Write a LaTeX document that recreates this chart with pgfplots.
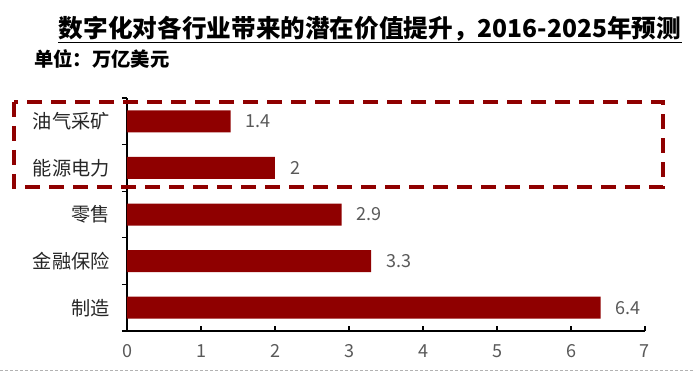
\documentclass[border=0pt]{standalone}
\usepackage{fontspec}
\setmainfont{Noto Sans CJK SC}
\usepackage{pgfplots}
\pgfplotsset{compat=1.18}
\newlength\pxu
\setlength\pxu{0.75pt}
\definecolor{barred}{RGB}{143,0,0}
\definecolor{tickgray}{RGB}{89,89,89}
\definecolor{labdark}{RGB}{38,38,38}
\begin{document}
\begin{tikzpicture}[x=\pxu,y=\pxu]
\useasboundingbox (0,0) rectangle (694,372);
\begin{axis}[
  at={(127\pxu,41\pxu)}, anchor=south west,
  scale only axis, width=518\pxu, height=233\pxu,
  xmin=0, xmax=7, ymin=-0.5, ymax=4.5,
  axis x line*=bottom, axis y line*=left,
  axis line style={line width=1.2pt, black},
  tick align=inside,
  xtick={0,...,7}, major tick length=5\pxu,
  every tick/.style={black, line width=0.9pt},
  ytick={0,...,4},
  yticklabels={制造,金融保险,零售,能源电力,油气采矿},
  major y tick style={draw=none},
  minor ytick={-0.5,0.5,...,4.5}, minor tick length=5\pxu,
  minor y tick style={xshift=-5\pxu, black, line width=0.9pt},
  yticklabel style={font=\fontsize{14.4}{16}\selectfont, color=labdark, inner sep=0pt, xshift=-17\pxu},
  xticklabel style={font=\fontsize{13.5}{16}\selectfont, color=tickgray, yshift=-9\pxu},
  /pgf/number format/assume math mode=true,
  clip=false,
]
\addplot[xbar, fill=barred, draw=none, bar width=22\pxu,
  point meta=x, nodes near coords,
  nodes near coords style={font=\fontsize{13.5}{16}\selectfont, color=tickgray, anchor=west, inner sep=0pt, xshift=15\pxu}]
  coordinates {(6.4,0) (3.3,1) (2.9,2) (2,3) (1.4,4)};
\end{axis}
\node[anchor=base, inner sep=0pt] at (370,334) {\resizebox{622\pxu}{!}{\fontsize{18}{20}\selectfont\bfseries 数字化对各行业带来的潜在价值提升，2016-2025年预测}};
\draw[line width=0.75pt] (58,329) -- (682,329);
\node[anchor=base west, inner sep=0pt] at (34,305) {\fontsize{14.5}{16}\selectfont\bfseries 单位：万亿美元};
\draw[barred, line width=3pt, dash pattern=on 15\pxu off 9\pxu] (14,270) rectangle (663,185);
\draw[gray!60, line width=0.75pt, dash pattern=on 2.25pt off 1.5pt] (0,1) -- (694,1);
\end{tikzpicture}
\end{document}
